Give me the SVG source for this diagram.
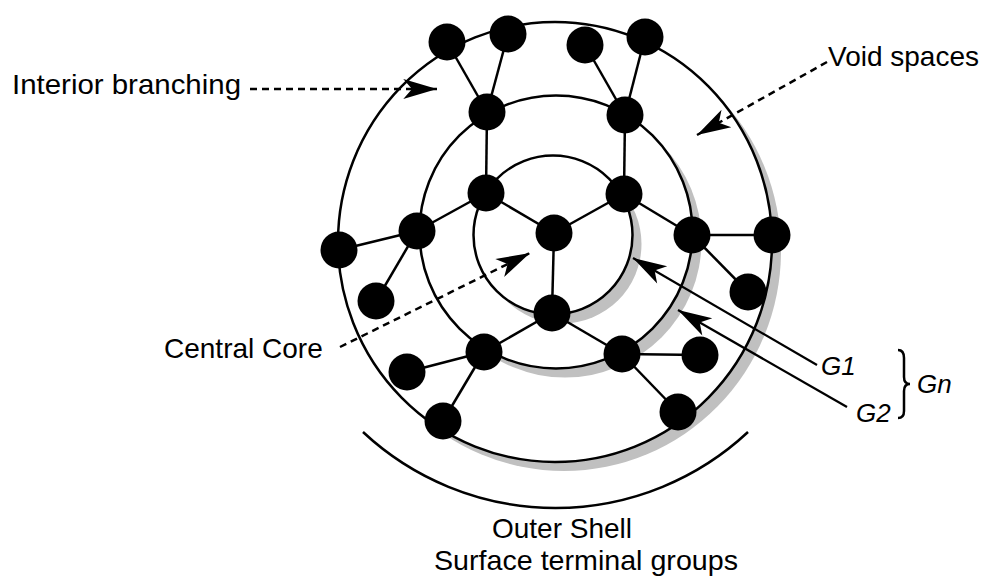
<svg xmlns="http://www.w3.org/2000/svg" width="983" height="576" viewBox="0 0 983 576">
<defs>
<marker id="arr" markerUnits="userSpaceOnUse" markerWidth="40" markerHeight="30" viewBox="-30 -10 32 20" refX="0" refY="0" orient="auto">
<path d="M0,0 L-27,-8 L-20,0 L-27,8 Z" fill="#000"/>
</marker>
<style>
.ring{fill:#fff;stroke:#000;stroke-width:2.5}
.shadow{fill:#c0c0c0;stroke:none}
.edge{stroke:#000;stroke-width:2.5;fill:none}
.node{fill:#000}
.dash{stroke:#000;stroke-width:2.5;fill:none;stroke-dasharray:7 5;marker-end:url(#arr)}
.ptr{stroke:#000;stroke-width:2.2;fill:none;marker-end:url(#arr)}
.lbl{font-family:"Liberation Sans",Arial,sans-serif;font-size:28px;fill:#000}
.glbl{font-family:"Liberation Sans",Arial,sans-serif;font-size:26px;font-style:italic;fill:#000}
</style>
</defs>
<rect width="983" height="576" fill="#fff"/>
<g id="rings">
<ellipse class="shadow" cx="564" cy="251" rx="217" ry="220"/>
<ellipse class="ring" cx="555" cy="242" rx="217" ry="220"/>
<circle class="shadow" cx="565" cy="241" r="136.5"/>
<circle class="ring" cx="556" cy="232" r="136.5"/>
<circle class="shadow" cx="562" cy="244" r="79.5"/>
<circle class="ring" cx="553" cy="235" r="79.5"/>
<path class="edge" d="M363,432 A282,282 0 0 0 748,432"/>
</g>
<g id="connectors">
<line class="edge" x1="554" y1="233" x2="486" y2="193"/>
<line class="edge" x1="554" y1="233" x2="624" y2="194"/>
<line class="edge" x1="554" y1="233" x2="552" y2="313"/>
<line class="edge" x1="486" y1="193" x2="487" y2="112"/>
<line class="edge" x1="486" y1="193" x2="417" y2="231"/>
<line class="edge" x1="624" y1="194" x2="625" y2="115"/>
<line class="edge" x1="624" y1="194" x2="692" y2="235"/>
<line class="edge" x1="552" y1="313" x2="484" y2="352"/>
<line class="edge" x1="552" y1="313" x2="622" y2="354"/>
<line class="edge" x1="487" y1="112" x2="447" y2="42"/>
<line class="edge" x1="487" y1="112" x2="508" y2="34"/>
<line class="edge" x1="625" y1="115" x2="585" y2="45"/>
<line class="edge" x1="625" y1="115" x2="645" y2="37"/>
<line class="edge" x1="417" y1="231" x2="339" y2="250"/>
<line class="edge" x1="417" y1="231" x2="376" y2="301"/>
<line class="edge" x1="692" y1="235" x2="772" y2="235"/>
<line class="edge" x1="692" y1="235" x2="748" y2="292"/>
<line class="edge" x1="484" y1="352" x2="407" y2="372"/>
<line class="edge" x1="484" y1="352" x2="443" y2="421"/>
<line class="edge" x1="622" y1="354" x2="700" y2="355"/>
<line class="edge" x1="622" y1="354" x2="678" y2="412"/>
<line class="dash" x1="250" y1="89" x2="437" y2="89"/>
<line class="dash" x1="827" y1="62" x2="697" y2="135"/>
<line class="dash" x1="340" y1="347" x2="530" y2="253"/>
<line class="ptr" x1="817" y1="365" x2="633" y2="258"/>
<line class="ptr" x1="847" y1="407" x2="678" y2="310"/>
<path class="edge" stroke-width="2" d="M898,350 Q904,350 904,358 L904,377 Q904,384 910,384 Q904,384 904,391 L904,411 Q904,418 898,418"/>
</g>
<g id="n-center"><circle class="node" cx="554" cy="233" r="18.5"/></g>
<g id="n-g1-a"><circle class="node" cx="486" cy="193" r="18.5"/></g>
<g id="n-g1-b"><circle class="node" cx="624" cy="194" r="18.5"/></g>
<g id="n-g1-c"><circle class="node" cx="552" cy="313" r="18.5"/></g>
<g id="n-g2-a"><circle class="node" cx="487" cy="112" r="18.5"/></g>
<g id="n-g2-b"><circle class="node" cx="625" cy="115" r="18.5"/></g>
<g id="n-g2-c"><circle class="node" cx="417" cy="231" r="18.5"/></g>
<g id="n-g2-d"><circle class="node" cx="692" cy="235" r="18.5"/></g>
<g id="n-g2-e"><circle class="node" cx="484" cy="352" r="18.5"/></g>
<g id="n-g2-f"><circle class="node" cx="622" cy="354" r="18.5"/></g>
<g id="n-s1"><circle class="node" cx="447" cy="42" r="18.5"/></g>
<g id="n-s2"><circle class="node" cx="508" cy="34" r="18.5"/></g>
<g id="n-s3"><circle class="node" cx="585" cy="45" r="18.5"/></g>
<g id="n-s4"><circle class="node" cx="645" cy="37" r="18.5"/></g>
<g id="n-s5"><circle class="node" cx="339" cy="250" r="18.5"/></g>
<g id="n-s6"><circle class="node" cx="376" cy="301" r="18.5"/></g>
<g id="n-s7"><circle class="node" cx="772" cy="235" r="18.5"/></g>
<g id="n-s8"><circle class="node" cx="748" cy="292" r="18.5"/></g>
<g id="n-s9"><circle class="node" cx="407" cy="372" r="18.5"/></g>
<g id="n-s10"><circle class="node" cx="443" cy="421" r="18.5"/></g>
<g id="n-s11"><circle class="node" cx="700" cy="355" r="18.5"/></g>
<g id="n-s12"><circle class="node" cx="678" cy="412" r="18.5"/></g>
<g id="labels">
<text class="lbl" x="12" y="94" textLength="229" lengthAdjust="spacingAndGlyphs">Interior branching</text>
<text class="lbl" x="828" y="66">Void spaces</text>
<text class="lbl" x="164" y="358">Central Core</text>
<text class="lbl" x="562" y="538" text-anchor="middle">Outer Shell</text>
<text class="lbl" x="434" y="570" textLength="304" lengthAdjust="spacingAndGlyphs">Surface terminal groups</text>
<text class="glbl" x="821" y="375">G1</text>
<text class="glbl" x="856" y="422">G2</text>
<text class="glbl" x="917" y="393">Gn</text>
</g>
</svg>
